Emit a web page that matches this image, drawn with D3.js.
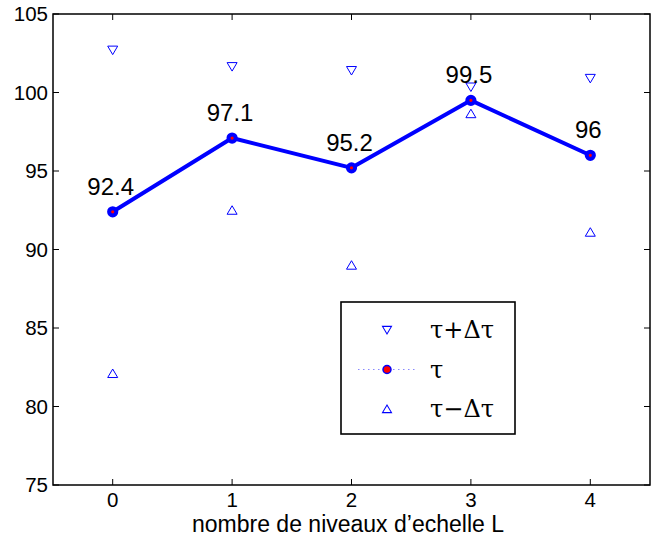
<!DOCTYPE html>
<html><head><meta charset="utf-8">
<script src="https://cdn.jsdelivr.net/npm/d3@7"></script>
<style>body{margin:0;background:#fff}svg{display:block}</style>
</head><body>
<svg id="c" width="653" height="539"></svg>
<script>
const levels = [0, 1, 2, 3, 4];
const tau = [92.4, 97.1, 95.2, 99.5, 96];
const tauPlus = [102.7, 101.65, 101.4, 100.35, 100.9];
const tauMinus = [82.1, 92.5, 89.0, 98.65, 91.1];
const labels = ["92.4", "97.1", "95.2", "99.5", "96"];
const yTicks = [75, 80, 85, 90, 95, 100, 105];
const xTicks = [0, 1, 2, 3, 4];
const legendItems = ["τ+Δτ", "τ", "τ−Δτ"];
const xLabel = "nombre de niveaux d’echelle L";

const svg = d3.select("#c");
const L = 53, R = 650, T = 14, B = 485;
const x = d3.scaleLinear().domain([-0.5, 4.5]).range([L, R]);
const y = d3.scaleLinear().domain([75, 105]).range([B, T]);
const font = "Liberation Sans, Arial, sans-serif";

// frame
svg.append("rect").attr("x", L).attr("y", T).attr("width", R - L).attr("height", B - T)
  .attr("fill", "none").attr("stroke", "#000").attr("stroke-width", 1.5);

// axes
const ax = svg.append("g").attr("font-family", font);
const tl = 6;
xTicks.forEach(t => {
  ax.append("line").attr("x1", x(t)).attr("x2", x(t)).attr("y1", B).attr("y2", B - tl).attr("stroke", "#000");
  ax.append("line").attr("x1", x(t)).attr("x2", x(t)).attr("y1", T).attr("y2", T + tl).attr("stroke", "#000");
  ax.append("text").attr("x", x(t)).attr("y", B + 22).attr("text-anchor", "middle")
    .attr("font-size", 20.5).text(t);
});
yTicks.forEach(t => {
  ax.append("line").attr("x1", L).attr("x2", L + tl).attr("y1", y(t)).attr("y2", y(t)).attr("stroke", "#000");
  ax.append("line").attr("x1", R).attr("x2", R - tl).attr("y1", y(t)).attr("y2", y(t)).attr("stroke", "#000");
  ax.append("text").attr("x", L - 5).attr("y", y(t)).attr("dy", "0.36em").attr("text-anchor", "end")
    .attr("font-size", 20.5).text(t);
});
ax.append("text").attr("x", 348).attr("y", 532).attr("text-anchor", "middle")
  .attr("font-size", 23).text(xLabel);

// triangles
const triDown = d3.symbol().type({draw(ctx){ctx.moveTo(-5,-4);ctx.lineTo(5,-4);ctx.lineTo(0,4.5);ctx.closePath();}});
const triUp = d3.symbol().type({draw(ctx){ctx.moveTo(-5,4);ctx.lineTo(5,4);ctx.lineTo(0,-4.5);ctx.closePath();}});
svg.append("g").selectAll("path").data(levels).join("path")
  .attr("d", triDown()).attr("transform", (d, i) => `translate(${x(d)},${y(tauPlus[i])})`)
  .attr("fill", "none").attr("stroke", "#0000ff").attr("stroke-width", 1);
svg.append("g").selectAll("path").data(levels).join("path")
  .attr("d", triUp()).attr("transform", (d, i) => `translate(${x(d)},${y(tauMinus[i])})`)
  .attr("fill", "none").attr("stroke", "#0000ff").attr("stroke-width", 1);

// line
const line = d3.line().x((d, i) => x(levels[i])).y(d => y(d));
svg.append("path").datum(tau).attr("d", line).attr("fill", "none")
  .attr("stroke", "#0000ff").attr("stroke-width", 4).attr("stroke-linejoin", "round");
svg.append("g").selectAll("circle").data(tau).join("circle")
  .attr("cx", (d, i) => x(levels[i])).attr("cy", d => y(d)).attr("r", 3.6)
  .attr("fill", "#ff0000").attr("stroke", "#0000ff").attr("stroke-width", 4);

// labels
svg.append("g").selectAll("text").data(tau).join("text")
  .attr("x", (d, i) => x(levels[i]) - 2).attr("y", d => y(d) - 17)
  .attr("text-anchor", "middle").attr("font-family", font).attr("font-size", 24)
  .text((d, i) => labels[i]);

// legend
const lg = svg.append("g");
lg.append("rect").attr("x", 341).attr("y", 302).attr("width", 174).attr("height", 132)
  .attr("fill", "#fff").attr("stroke", "#000").attr("stroke-width", 1.6);
const rows = [330, 369.5, 409];
const mx = 387;
lg.append("path").attr("d", triDown()).attr("transform", `translate(${mx},${rows[0]}) scale(0.9)`)
  .attr("fill", "none").attr("stroke", "#0000ff").attr("stroke-width", 1.2);
lg.append("line").attr("x1", 358).attr("x2", 415).attr("y1", rows[1]).attr("y2", rows[1])
  .attr("stroke", "#8888ff").attr("stroke-width", 1).attr("stroke-dasharray", "1.5,3.5");
lg.append("circle").attr("cx", mx).attr("cy", rows[1]).attr("r", 4)
  .attr("fill", "#ff0000").attr("stroke", "#0000ff").attr("stroke-width", 1.5);
lg.append("path").attr("d", triUp()).attr("transform", `translate(${mx},${rows[2]}) scale(0.9)`)
  .attr("fill", "none").attr("stroke", "#0000ff").attr("stroke-width", 1.2);
legendItems.forEach((t, i) => {
  lg.append("text").attr("x", 430).attr("y", rows[i] + 8).attr("font-family", "DejaVu Serif, Liberation Serif, serif")
    .attr("font-size", 24).text(t);
});
</script>
</body></html>
